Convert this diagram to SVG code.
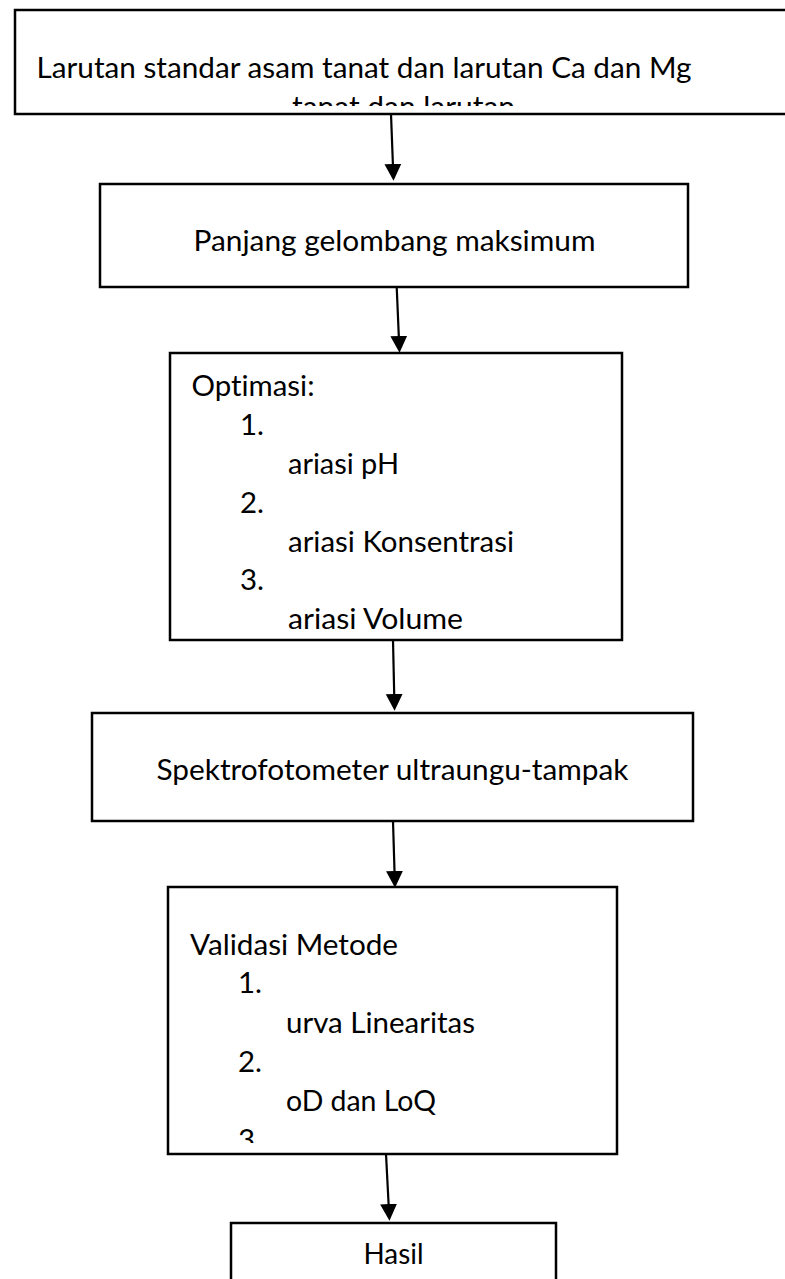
<svg xmlns="http://www.w3.org/2000/svg" width="785" height="1279" viewBox="0 0 785 1279">
  <style>
    .box { fill: #ffffff; stroke: #000000; stroke-width: 2.5; }
    .t { font-family: "Lato", "Carlito", "Liberation Sans", sans-serif; font-size: 29px; fill: #000000; font-variant-ligatures: none; }
    .conn { stroke: #000000; stroke-width: 2.2; fill: none; }
  </style>
  <defs>
    <marker id="arrow" markerUnits="userSpaceOnUse" markerWidth="18" markerHeight="18" viewBox="0 0 16 16" refX="0" refY="8" orient="auto">
      <path d="M0,0.5 L15,8 L0,15.5 Z" fill="#000000"/>
    </marker>
    <clipPath id="clip1"><rect x="0" y="0" width="785" height="106"/></clipPath>
    <clipPath id="clip5"><rect x="0" y="880" width="785" height="263"/></clipPath>
  </defs>
  <rect width="785" height="1279" fill="#ffffff"/>

  <g id="node-larutan">
    <rect class="box" x="15" y="10" width="800" height="104"/>
    <text class="t" x="36.5" y="78" textLength="655" lengthAdjust="spacingAndGlyphs">Larutan standar asam tanat dan larutan Ca dan Mg</text>
    <text class="t" x="292" y="117" textLength="223" lengthAdjust="spacingAndGlyphs" clip-path="url(#clip1)">tanat dan larutan</text>
  </g>

  <g id="node-panjang">
    <rect class="box" x="100" y="184" width="588" height="103"/>
    <text class="t" x="193.5" y="251" textLength="402" lengthAdjust="spacingAndGlyphs">Panjang gelombang maksimum</text>
  </g>

  <g id="node-optimasi">
    <rect class="box" x="170" y="353" width="452" height="287"/>
    <text class="t" x="191.5" y="396" textLength="123" lengthAdjust="spacingAndGlyphs">Optimasi:</text>
    <text class="t" x="240" y="435" textLength="24" lengthAdjust="spacingAndGlyphs">1.</text>
    <text class="t" x="288" y="474" textLength="111" lengthAdjust="spacingAndGlyphs">ariasi pH</text>
    <text class="t" x="240" y="512.5" textLength="24" lengthAdjust="spacingAndGlyphs">2.</text>
    <text class="t" x="288" y="551.5" textLength="226" lengthAdjust="spacingAndGlyphs">ariasi Konsentrasi</text>
    <text class="t" x="240" y="590" textLength="24" lengthAdjust="spacingAndGlyphs">3.</text>
    <text class="t" x="288" y="629" textLength="175" lengthAdjust="spacingAndGlyphs">ariasi Volume</text>
  </g>

  <g id="node-spektro">
    <rect class="box" x="92" y="713" width="601" height="108"/>
    <text class="t" x="156.5" y="779.5" textLength="472" lengthAdjust="spacingAndGlyphs">Spektrofotometer ultraungu-tampak</text>
  </g>

  <g id="node-validasi">
    <rect class="box" x="168" y="887" width="449" height="267"/>
    <text class="t" x="190" y="954.5" textLength="208" lengthAdjust="spacingAndGlyphs">Validasi Metode</text>
    <text class="t" x="238" y="993" textLength="24" lengthAdjust="spacingAndGlyphs">1.</text>
    <text class="t" x="286" y="1032.5" textLength="189" lengthAdjust="spacingAndGlyphs">urva Linearitas</text>
    <text class="t" x="238" y="1071.5" textLength="24" lengthAdjust="spacingAndGlyphs">2.</text>
    <text class="t" x="286" y="1110.5" textLength="150" lengthAdjust="spacingAndGlyphs">oD dan LoQ</text>
    <text class="t" x="238" y="1149.5" textLength="24" lengthAdjust="spacingAndGlyphs" clip-path="url(#clip5)">3.</text>
  </g>

  <g id="node-hasil">
    <rect class="box" x="231" y="1223" width="325" height="100"/>
    <text class="t" x="363.5" y="1264" textLength="60" lengthAdjust="spacingAndGlyphs">Hasil</text>
  </g>

  <g id="connectors">
    <line class="conn" x1="391" y1="114" x2="392.9" y2="164" marker-end="url(#arrow)"/>
    <line class="conn" x1="396.7" y1="287" x2="398.8" y2="336" marker-end="url(#arrow)"/>
    <line class="conn" x1="393" y1="640" x2="394.2" y2="694" marker-end="url(#arrow)"/>
    <line class="conn" x1="393" y1="821" x2="394.5" y2="871" marker-end="url(#arrow)"/>
    <line class="conn" x1="386" y1="1154" x2="388.6" y2="1204" marker-end="url(#arrow)"/>
  </g>
</svg>
